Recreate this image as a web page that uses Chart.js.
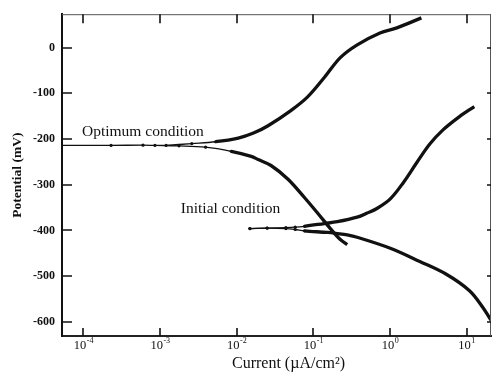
<!DOCTYPE html>
<html>
<head>
<meta charset="utf-8">
<script src="https://cdn.jsdelivr.net/npm/chart.js@4.4.1/dist/chart.umd.min.js"></script>
<style>
  html, body { margin: 0; padding: 0; background: #fff; }
  #contenedor { width: 495px; height: 372px; }
</style>
</head>
<body>
<div id="contenedor"><canvas id="graficoPolarizacion" width="495" height="372"></canvas></div>
<script>
// Curvas de polarización: corriente en µA/cm², potencial en mV

// Condición óptima - rama anódica
const optimoAnodicaCorriente = [0.0012, 0.0026, 0.0053, 0.0105, 0.0166, 0.0257, 0.0509, 0.0843, 0.140, 0.225, 0.374, 0.741, 1.23, 2.57];
const optimoAnodicaPotencial = [-214, -210, -206, -198, -187, -171, -138, -108, -65, -22, 6, 32, 43, 65];

// Condición óptima - rama catódica (incluye la zona plana cerca de Ecorr)
const optimoCatodicaCorriente = [0.00005, 0.00023, 0.0006, 0.00086, 0.00177, 0.00394, 0.0085, 0.0155, 0.0191, 0.0281, 0.0468, 0.0766, 0.115, 0.167, 0.225, 0.277];
const optimoCatodicaPotencial = [-214, -214, -213.5, -214, -215, -218, -227, -238, -245, -258, -288, -328, -363, -396, -420, -431];

// Condición inicial - rama anódica
const inicialAnodicaCorriente = [0.0149, 0.025, 0.0439, 0.058, 0.0766, 0.139, 0.206, 0.373, 0.504, 0.676, 1.01, 1.50, 2.23, 3.31, 4.92, 8.07, 12.6];
const inicialAnodicaPotencial = [-396, -395, -394, -393, -391, -385, -381, -371, -362, -352, -331, -295, -252, -211, -180, -151, -129];

// Condición inicial - rama catódica
const inicialCatodicaCorriente = [0.0149, 0.025, 0.0439, 0.058, 0.0766, 0.153, 0.206, 0.277, 0.373, 1.01, 2.45, 5.43, 10.9, 16.2, 20.9];
const inicialCatodicaPotencial = [-396, -395, -396, -398, -401, -404.5, -407, -410, -415, -439, -468, -496, -532, -568, -597];

// Marcas de los ejes
const ticksCorriente = [1e-4, 1e-3, 1e-2, 1e-1, 1, 10];
const ticksPotencial = [0, -100, -200, -300, -400, -500, -600];

// Textos dentro del gráfico (posición en unidades de datos)
const etiquetasTexto = ['Optimum condition', 'Initial condition'];
const etiquetasCorriente = [0.000096, 0.00187];
const etiquetasPotencial = [-185, -353];

function puntos(xs, ys) {
    return xs.map((x, i) => ({ x: x, y: ys[i] }));
}

// Línea fina con puntos cerca de Ecorr, gruesa en el resto
function serie(xs, ys, limiteFino) {
    return {
        data: puntos(xs, ys),
        showLine: true,
        borderColor: '#111',
        backgroundColor: '#111',
        pointBackgroundColor: '#111',
        pointBorderWidth: 0,
        tension: 0.35,
        pointRadius: ctx => (ctx.parsed && ctx.parsed.x <= limiteFino ? 1.6 : 0),
        segment: {
            borderWidth: ctx => (ctx.p1.parsed.x <= limiteFino ? 1.3 : 3.3)
        }
    };
}

const serif = '"Liberation Serif", "Times New Roman", serif';

// Marco, marcas hacia dentro, etiquetas del eje X y textos
const marcoYTextos = {
    id: 'marcoYTextos',
    afterDatasetsDraw(chart) {
        const { ctx, chartArea: a, scales: { x, y } } = chart;
        ctx.save();

        ctx.strokeStyle = '#555';
        ctx.lineWidth = 1;
        ctx.beginPath();
        ctx.moveTo(a.left, a.top + 0.5);
        ctx.lineTo(a.right, a.top + 0.5);
        ctx.moveTo(a.right - 0.5, a.top);
        ctx.lineTo(a.right - 0.5, a.bottom);
        ctx.stroke();

        ctx.strokeStyle = '#111';
        ctx.lineWidth = 1.6;
        ctx.beginPath();
        x.ticks.forEach(t => {
            const px = Math.round(x.getPixelForValue(t.value));
            ctx.moveTo(px, a.bottom);
            ctx.lineTo(px, a.bottom - 8);
            ctx.moveTo(px, a.top);
            ctx.lineTo(px, a.top + 9);
        });
        y.ticks.forEach(t => {
            const py = Math.round(y.getPixelForValue(t.value));
            ctx.moveTo(a.left, py);
            ctx.lineTo(a.left + 10, py);
            ctx.moveTo(a.right, py);
            ctx.lineTo(a.right - 4, py);
        });
        ctx.stroke();

        // Etiquetas 10^n con exponente elevado
        ctx.fillStyle = '#111';
        ctx.textBaseline = 'alphabetic';
        ctx.textAlign = 'left';
        x.ticks.forEach(t => {
            const px = x.getPixelForValue(t.value);
            const exp = String(Math.round(Math.log10(t.value)));
            ctx.font = '12.5px ' + serif;
            const wBase = ctx.measureText('10').width;
            ctx.font = '8px ' + serif;
            const wExp = ctx.measureText(exp).width;
            const x0 = px - (wBase + wExp) / 2;
            ctx.font = '12.5px ' + serif;
            ctx.fillText('10', x0, a.bottom + 12.5);
            ctx.font = '8px ' + serif;
            ctx.fillText(exp, x0 + wBase + 0.5, a.bottom + 7);
        });

        // Título del eje X
        ctx.font = '16px ' + serif;
        ctx.textAlign = 'center';
        ctx.fillText('Current (µA/cm²)', (a.left + a.right) / 2 + 12, a.bottom + 32);

        // Textos de las curvas
        ctx.font = '15.5px ' + serif;
        ctx.textAlign = 'left';
        ctx.textBaseline = 'middle';
        etiquetasTexto.forEach((txt, i) => {
            ctx.fillText(txt, x.getPixelForValue(etiquetasCorriente[i]), y.getPixelForValue(etiquetasPotencial[i]));
        });

        ctx.restore();
    }
};

const canvas = document.getElementById('graficoPolarizacion');
new Chart(canvas.getContext('2d'), {
    type: 'scatter',
    data: {
        datasets: [
            serie(optimoCatodicaCorriente, optimoCatodicaPotencial, 0.0085),
            serie(optimoAnodicaCorriente, optimoAnodicaPotencial, 0.0053),
            serie(inicialAnodicaCorriente, inicialAnodicaPotencial, 0.0766),
            serie(inicialCatodicaCorriente, inicialCatodicaPotencial, 0.0766)
        ]
    },
    options: {
        responsive: false,
        animation: false,
        layout: { padding: { top: 9, right: 0, left: 0, bottom: 0 } },
        plugins: { legend: { display: false }, tooltip: { enabled: false } },
        scales: {
            x: {
                type: 'logarithmic',
                position: 'bottom',
                min: 0.0000527,
                max: 20.8,
                grid: { display: false, drawTicks: false },
                border: { display: true, color: '#222', width: 2 },
                ticks: { display: false },
                afterBuildTicks: scale => { scale.ticks = ticksCorriente.map(v => ({ value: v })); },
                afterFit: scale => { scale.height = 36; }
            },
            y: {
                type: 'linear',
                position: 'left',
                min: -631,
                max: 73,
                grid: { display: false, drawTicks: false },
                border: { display: true, color: '#111', width: 2 },
                ticks: {
                    color: '#111',
                    padding: 7,
                    font: { family: serif, size: 12, weight: 'bold' }
                },
                title: {
                    display: true,
                    text: 'Potential (mV)',
                    color: '#111',
                    padding: { top: 9, bottom: 0 },
                    font: { family: serif, size: 13.5, weight: 'bold' }
                },
                afterBuildTicks: scale => { scale.ticks = ticksPotencial.map(v => ({ value: v })); },
                afterFit: scale => { scale.width = 62; }
            }
        }
    },
    plugins: [marcoYTextos]
});
</script>
</body>
</html>
